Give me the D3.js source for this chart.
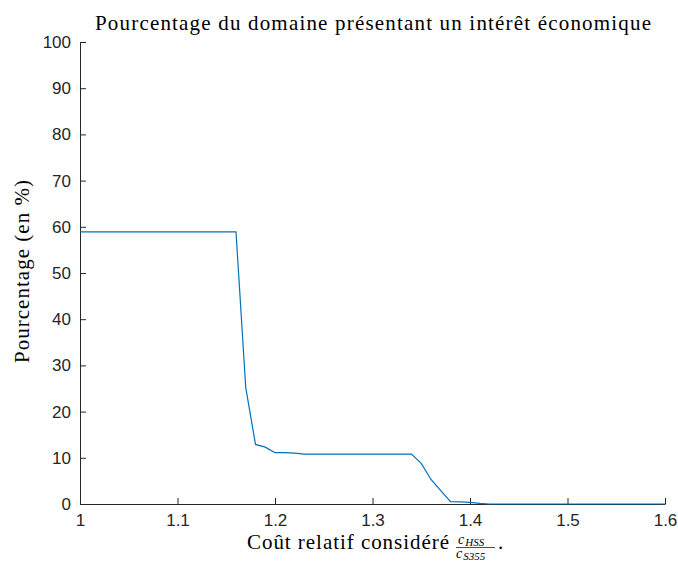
<!DOCTYPE html>
<html>
<head>
<meta charset="utf-8">
<script src="https://cdn.jsdelivr.net/npm/d3@7"></script>
<style>
  body { margin: 0; background: #fff; }
  svg { display: block; }
</style>
</head>
<body>
<svg id="chart" width="678" height="563"></svg>
<script>
// ---- data ----
const costRatio = [1.00, 1.16, 1.17, 1.18, 1.19, 1.20, 1.21, 1.22, 1.23, 1.34, 1.35, 1.36, 1.37, 1.38, 1.39, 1.40, 1.41, 1.42, 1.60];
const percentage = [58.9, 58.9, 25.2, 12.9, 12.3, 11.1, 11.1, 11.0, 10.8, 10.8, 8.8, 5.3, 2.9, 0.5, 0.45, 0.35, 0.15, 0.0, 0.0];
const xTicks = [1, 1.1, 1.2, 1.3, 1.4, 1.5, 1.6];
const xTickLabels = ["1", "1.1", "1.2", "1.3", "1.4", "1.5", "1.6"];
const yTicks = [0, 10, 20, 30, 40, 50, 60, 70, 80, 90, 100];
const yTickLabels = ["0", "10", "20", "30", "40", "50", "60", "70", "80", "90", "100"];
const titleText = "Pourcentage du domaine présentant un intérêt économique";
const yLabelText = "Pourcentage (en %)";
const xLabelText = "Coût relatif considéré";

// ---- layout ----
const svg = d3.select("#chart");
const mLeft = 80, mRight = 665, mTop = 42, mBottom = 504;
const axisColor = "#262626";
const tickFont = "'Liberation Sans', Arial, Helvetica, sans-serif";
const serif = "'Liberation Serif', 'Times New Roman', serif";

const x = d3.scaleLinear().domain([1, 1.6]).range([mLeft, mRight]);
const y = d3.scaleLinear().domain([0, 100]).range([mBottom, mTop]);

// x axis
const xAxis = d3.axisBottom(x).tickValues(xTicks)
  .tickFormat((d, i) => xTickLabels[i]).tickSizeInner(-6).tickSizeOuter(0).tickPadding(10);
const gx = svg.append("g").attr("transform", `translate(0,${mBottom})`).call(xAxis);
gx.select(".domain").attr("stroke", axisColor).attr("stroke-width", 1);
gx.selectAll(".tick line").attr("stroke", axisColor);
gx.selectAll(".tick text").attr("fill", axisColor).style("font-family", tickFont).style("font-size", "17px");

// y axis
const yAxis = d3.axisLeft(y).tickValues(yTicks)
  .tickFormat((d, i) => yTickLabels[i]).tickSizeInner(-6).tickSizeOuter(0).tickPadding(9);
const gy = svg.append("g").attr("transform", `translate(${mLeft},0)`).call(yAxis);
gy.select(".domain").attr("stroke", axisColor).attr("stroke-width", 1);
gy.selectAll(".tick line").attr("stroke", axisColor);
gy.selectAll(".tick text").attr("fill", axisColor).style("font-family", tickFont).style("font-size", "17px");

// line
const line = d3.line().x((d, i) => x(costRatio[i])).y(d => y(d));
svg.append("path").datum(percentage)
  .attr("d", line)
  .attr("fill", "none")
  .attr("stroke", "#0072BD")
  .attr("stroke-width", 1.2);

// title
svg.append("text")
  .attr("x", 373).attr("y", 30)
  .attr("text-anchor", "middle")
  .attr("textLength", 556).attr("lengthAdjust", "spacing")
  .style("font-family", serif).style("font-size", "21px").attr("fill", "#000")
  .text(titleText);

// y label
svg.append("text")
  .attr("transform", `translate(29,271.5) rotate(-90)`)
  .attr("text-anchor", "middle")
  .attr("textLength", 183).attr("lengthAdjust", "spacing")
  .style("font-family", serif).style("font-size", "21px").attr("fill", "#000")
  .text(yLabelText);

// x label with fraction
const xl = svg.append("g");
xl.append("text")
  .attr("x", 247).attr("y", 549)
  .attr("textLength", 202).attr("lengthAdjust", "spacing")
  .style("font-family", serif).style("font-size", "21px").attr("fill", "#000")
  .text(xLabelText);
const fx = 456;
const num = xl.append("text").attr("x", fx + 2).attr("y", 544)
  .style("font-family", serif).style("font-size", "14px").style("font-style", "italic").attr("fill", "#000");
num.append("tspan").text("c");
num.append("tspan").attr("dy", 2).style("font-size", "11px").attr("dx", 1).text("HSS");
const den = xl.append("text").attr("x", fx).attr("y", 558)
  .style("font-family", serif).style("font-size", "14px").style("font-style", "italic").attr("fill", "#000");
den.append("tspan").text("c");
den.append("tspan").attr("dy", 2).style("font-size", "11px").attr("dx", 1).text("S355");
xl.append("line").attr("x1", fx).attr("x2", 495).attr("y1", 547.5).attr("y2", 547.5)
  .attr("stroke", "#000").attr("stroke-width", 0.7);
xl.append("text").attr("x", 498).attr("y", 549)
  .style("font-family", serif).style("font-size", "21px").attr("fill", "#000").text(".");
</script>
</body>
</html>
